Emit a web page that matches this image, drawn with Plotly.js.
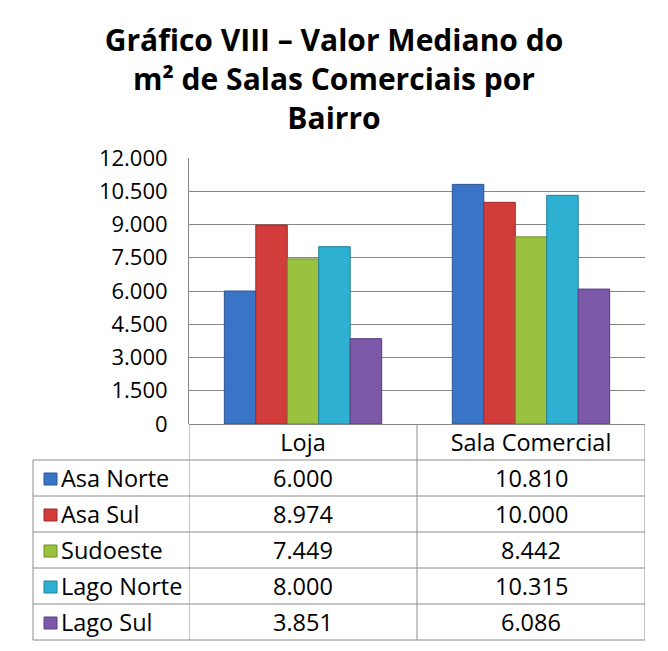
<!DOCTYPE html>
<html>
<head>
<meta charset="utf-8">
<script src="https://cdn.plot.ly/plotly-3.0.1.min.js"></script>
<style>html,body{margin:0;padding:0;background:#fff;}#chart{width:668px;height:651px;}</style>
</head>
<body>
<div id="chart"></div>
<script>
// ---- data ----
const categories = ['Loja', 'Sala Comercial'];
const seriesNames = ['Asa Norte', 'Asa Sul', 'Sudoeste', 'Lago Norte', 'Lago Sul'];
const asaNorte  = [6000, 10810];
const asaSul    = [8974, 10000];
const sudoeste  = [7449, 8442];
const lagoNorte = [8000, 10315];
const lagoSul   = [3851, 6086];
const yTickVals = [0, 1500, 3000, 4500, 6000, 7500, 9000, 10500, 12000];
const titleText = 'Gráfico VIII – Valor Mediano do<br>m² de Salas Comerciais por<br>Bairro';

const seriesValues = [asaNorte, asaSul, sudoeste, lagoNorte, lagoSul];
const colors = ['#3a74c6', '#d23c3a', '#9bc23f', '#2eb0d3', '#7b58a8'];
const lineColors = ['#2a5490', '#9a2a28', '#6f8c2c', '#22809a', '#5a3f7c'];

function fmt(n) { return String(n).replace(/\B(?=(\d{3})+(?!\d))/g, '.'); }

const FONT = 'Open Sans, DejaVu Sans, sans-serif';
const W = 668, H = 651;
const L = 189, R = 23, T = 158, B = 227;
const plotH = H - T - B; // 266
const plotW = W - L - R;
function py(y) { return (H - B - y) / plotH; }      // pixel y -> paper y
function px(x) { return (x - L) / plotW; }          // pixel x -> paper x

const traces = seriesNames.map((name, i) => ({
  type: 'bar',
  name: name,
  x: categories,
  y: seriesValues[i],
  marker: { color: colors[i], line: { color: lineColors[i], width: 1 } },
  hoverinfo: 'none'
}));

const rowTop = 460, rowH = 36, nRows = seriesNames.length;
const tableLeft = 33;
const lineStyle = { color: '#8c8c8c', width: 1 };
const shapes = [];
for (let r = 0; r <= nRows; r++) {
  const y = rowTop + r * rowH;
  shapes.push({ type: 'line', xref: 'paper', yref: 'paper', x0: px(tableLeft), x1: 1, y0: py(y), y1: py(y), line: lineStyle });
}
shapes.push({ type: 'line', xref: 'paper', yref: 'paper', x0: px(tableLeft), x1: px(tableLeft), y0: py(rowTop), y1: py(rowTop + nRows * rowH), line: lineStyle });
[-0.5, 0.5, 1.5].forEach(xv => {
  shapes.push({ type: 'line', xref: 'x', yref: 'paper', x0: xv, x1: xv, y0: 0, y1: py(rowTop + nRows * rowH), line: lineStyle });
});
const annotations = [];
const TFS = 23.5;
seriesNames.forEach((name, r) => {
  const yc = rowTop + r * rowH + rowH / 2;
  shapes.push({ type: 'rect', xref: 'paper', yref: 'paper', x0: px(44), x1: px(57), y0: py(yc - 5), y1: py(yc + 7), fillcolor: colors[r], line: { color: lineColors[r], width: 1 } });
  annotations.push({ xref: 'paper', yref: 'paper', x: px(59), y: py(yc), xanchor: 'left', yanchor: 'middle', text: name, showarrow: false, font: { family: FONT, size: TFS, color: '#000' } });
  categories.forEach((c, j) => {
    annotations.push({ xref: 'x', yref: 'paper', x: c, y: py(yc), xanchor: 'center', yanchor: 'middle', text: fmt(seriesValues[r][j]), showarrow: false, font: { family: FONT, size: TFS, color: '#000' } });
  });
});

const layout = {
  width: W, height: H,
  margin: { l: L, r: R, t: T, b: B, pad: 0 },
  paper_bgcolor: '#fff', plot_bgcolor: '#fff',
  separators: ',.',
  showlegend: false,
  barmode: 'group',
  bargap: 0.31,
  bargroupgap: 0,
  title: {
    text: titleText,
    font: { family: FONT, size: 30, color: '#000', weight: 'bold' },
    x: 0.5, xref: 'container', xanchor: 'center',
    y: 1 - 51 / H, yref: 'container', yanchor: 'top'
  },
  xaxis: {
    type: 'category',
    range: [-0.5, 1.5],
    showgrid: false, zeroline: false, showline: false,
    ticks: '', ticklabelstandoff: 2,
    tickfont: { family: FONT, size: TFS, color: '#000' }
  },
  yaxis: {
    range: [0, 12000],
    tickvals: yTickVals,
    tickformat: ',d',
    showgrid: true, gridcolor: '#868686', gridwidth: 1,
    zeroline: true, zerolinecolor: '#868686', zerolinewidth: 1,
    showline: true, linecolor: '#868686', linewidth: 1,
    ticks: '', ticklabelstandoff: 16,
    tickfont: { family: FONT, size: 22, color: '#000' }
  },
  shapes: shapes,
  annotations: annotations
};

Plotly.newPlot('chart', traces, layout, { staticPlot: true, displayModeBar: false });
</script>
</body>
</html>
